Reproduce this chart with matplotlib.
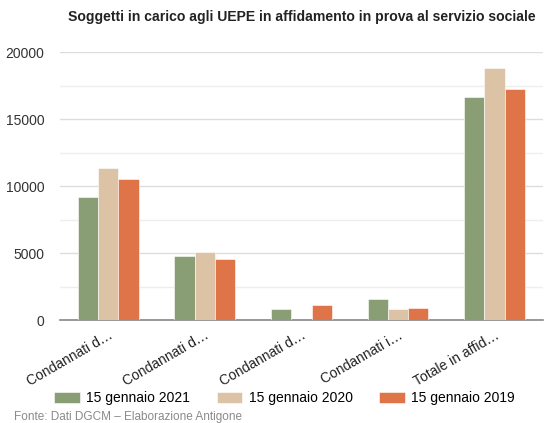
import numpy as np
import matplotlib
matplotlib.use("Agg")
import matplotlib.pyplot as plt

plt.rcParams['font.family'] = ['Liberation Sans', 'DejaVu Sans']

categories = ["Condannati d\u2026", "Condannati d\u2026", "Condannati d\u2026",
              "Condannati i\u2026", "Totale in affid\u2026"]
series_names = ["15 gennaio 2021", "15 gennaio 2020", "15 gennaio 2019"]
val_2021 = [9200, 4800, 820, 1570, 16650]
val_2020 = [11370, 5100, 0, 820, 18780]
val_2019 = [10520, 4530, 1120, 920, 17230]
colors = ["#8a9e76", "#dcc3a6", "#de7448"]

fig = plt.figure(figsize=(5.44, 4.23), dpi=100)
ax = fig.add_axes([0.110, 0.243, 0.888, 0.634])

x = np.arange(len(categories))
w = 0.21
for i, (vals, name) in enumerate(zip([val_2021, val_2020, val_2019], series_names)):
    ax.bar(x + (i - 1) * w, vals, width=w, color=colors[i], label=name,
           edgecolor="white", linewidth=0.4, zorder=3)

ax.set_xlim(-0.5, len(categories) - 0.5)
ax.set_ylim(0, 20000)
ax.set_yticks([0, 5000, 10000, 15000, 20000])
ax.set_yticks([2500, 7500, 12500, 17500], minor=True)
ax.grid(axis="y", which="major", color="#dddddd", linewidth=1.0, zorder=0)
ax.grid(axis="y", which="minor", color="#eeeeee", linewidth=1.0, zorder=0)
for s in ["top", "right", "left"]:
    ax.spines[s].set_visible(False)
ax.spines["bottom"].set_color("#888888")
ax.spines["bottom"].set_linewidth(1.2)
ax.tick_params(axis="y", which="both", length=0, labelsize=10, colors="#333333", pad=11)
ax.tick_params(axis="x", length=0, labelsize=10, colors="#222222", pad=6)
ax.set_xticks(x)
ax.set_xticklabels(categories, rotation=30, ha="right", rotation_mode="anchor")

ax.set_title("Soggetti in carico agli UEPE in affidamento in prova al servizio sociale",
             fontsize=10.1, fontweight="bold", color="#222222", pad=22)

fig.legend(loc="center", bbox_to_anchor=(0.523, 0.058), ncol=3, frameon=False,
           fontsize=10, handlelength=1.85, handleheight=0.9, columnspacing=1.9,
           handletextpad=0.45, borderpad=0)

fig.text(0.025, 0.006, "Fonte: Dati DGCM \u2013 Elaborazione Antigone",
         fontsize=8.5, color="#8a8a8a")

fig.savefig("out.png", dpi=100)
